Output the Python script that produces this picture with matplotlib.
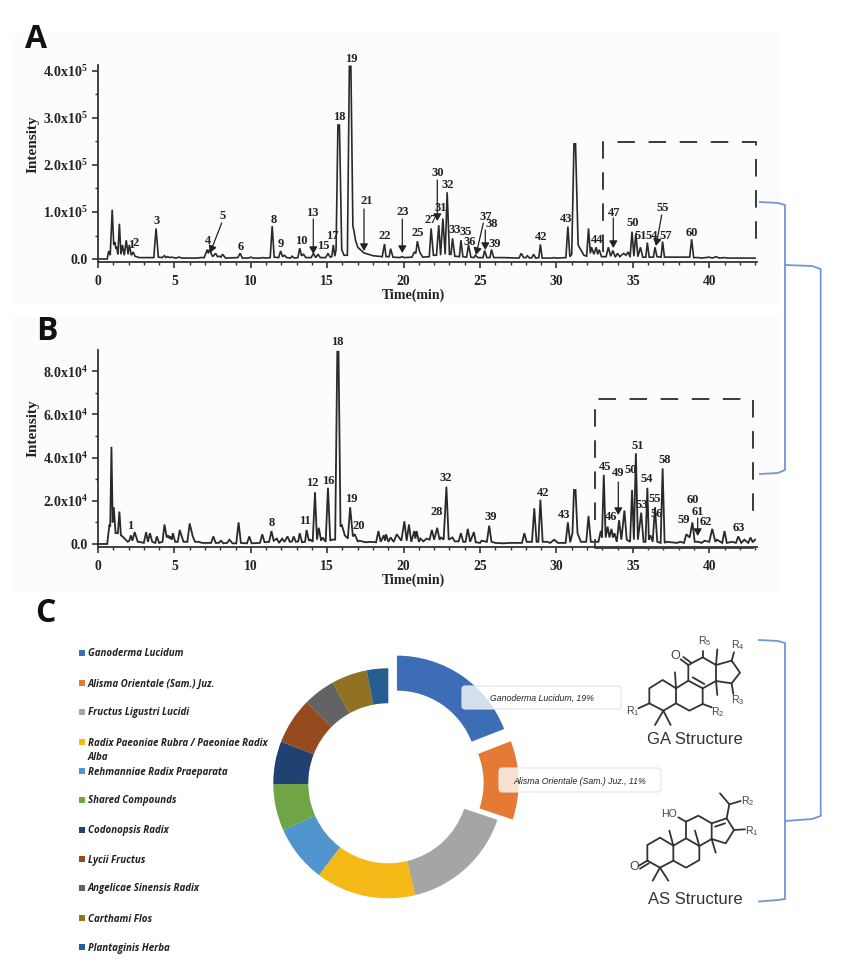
import matplotlib
matplotlib.use("Agg")
import matplotlib.pyplot as plt
from matplotlib.patches import Rectangle, FancyBboxPatch
from matplotlib.ticker import MultipleLocator
import matplotlib.patheffects as pe

# panel A chromatogram, intensity in units of 1e5
a_time = [0, 0.6, 0.7, 0.8, 0.93, 1.03, 1.1, 1.17, 1.22, 1.3,
          1.4, 1.5, 1.6, 1.72, 1.85, 1.97, 2.05, 2.18, 2.3, 2.42,
          2.7, 3.65, 3.8, 3.95, 4.2, 4.35, 4.45, 4.55, 4.68, 4.8,
          5.1, 5.3, 5.5, 6.5, 6.7, 6.95, 7.15, 7.22, 7.3, 7.5,
          7.7, 7.82, 7.95, 8.05, 8.15, 8.35, 9.15, 9.3, 9.45, 9.85,
          10, 10.15, 10.65, 10.8, 11, 11.27, 11.4, 11.53, 11.82, 11.95,
          12.08, 12.2, 12.35, 12.6, 12.7, 12.85, 13.08, 13.2, 13.32, 13.45,
          13.6, 13.95, 14.1, 14.25, 14.4, 14.55, 14.9, 15.05, 15.2, 15.3,
          15.4, 15.5, 15.58, 15.7, 15.8, 15.95, 16.1, 16.32, 16.45, 16.55, 16.68, 16.75,
          16.85, 17, 17.4, 18, 18.6, 18.75, 18.85, 19.05, 19.15, 19.3,
          19.75, 19.9, 20.05, 20.55, 20.7, 20.8, 20.9, 21.05, 21.25, 21.68,
          21.8, 21.95, 22.15, 22.3, 22.42, 22.57, 22.72, 22.85, 23, 23.1,
          23.2, 23.35, 23.65, 23.75, 23.88, 24.12, 24.25, 24.4, 24.6, 24.7,
          24.85, 25.2, 25.3, 25.45, 25.65, 25.75, 25.9, 26.5, 27.55, 27.7,
          27.85, 28, 28.1, 28.25, 28.4, 28.5, 28.65, 28.85, 28.95, 29.07,
          29.7, 29.85, 30, 30.62, 30.75, 30.88, 31.0, 31.15, 31.25, 31.42, 31.5,
          31.8, 31.98, 32.1, 32.22, 32.3, 32.45, 32.6, 32.7, 32.8, 32.95,
          33.25, 33.4, 33.55, 33.7, 33.85, 34, 34.15, 34.4, 34.55, 34.7,
          34.82, 34.95, 35.07, 35.2, 35.33, 35.5, 35.65, 35.85, 35.95, 36.07,
          36.35, 36.45, 36.58, 36.85, 36.95, 37.07, 37.4, 38, 38.72, 38.85,
          38.98, 39.3, 39.5, 40, 40.2, 40.45, 40.65, 41, 41.2, 43]
a_intensity = [0, 0, .17, .08, 1.05, .3, .36, .22, .26, .1,
               .75, .1, .3, .08, .4, .1, .3, .08, .15, .06,
               .03, .03, .65, .04, .03, .07, .03, .05, .03, .04,
               .02, .04, .02, .02, .03, .03, .2, .12, .2, .05,
               .12, .05, .06, .04, .1, .02, .03, .12, .02, .02,
               .04, .02, .02, .03, .02, .03, .7, .04, .03, .17,
               .05, .08, .03, .02, .06, .02, .03, .23, .07, .1,
               .03, .03, .12, .03, .1, .03, .03, .12, .04, .05,
               .3, .06, .2, 2.85, 2.85, .2, .08, .08, 4.1, 4.1, .7, .6,
               .4, .25, .13, .07, .05, .32, .05, .05, .22, .04,
               .03, .05, .03, .04, .15, .12, .38, .15, .04, .05,
               .65, .08, .08, .72, .08, .86, .1, 1.42, .1, .1,
               .44, .06, .05, .4, .05, .04, .3, .04, .03, .08,
               .03, .03, .18, .03, .03, .2, .03, .03, .02, .12,
               .03, .03, .07, .02, .03, .1, .02, .03, .31, .02,
               .02, .03, .02, .03, .69, .05, .1, 2.45, 2.45, .3, .25,
               .08, .06, .65, .12, .25, .1, .25, .1, .2, .05,
               .05, .25, .06, .18, .04, .12, .05, .12, .08, .15,
               .04, .58, .06, .55, .05, .25, .04, .04, .35, .04,
               .04, .25, .05, .04, .37, .04, .04, .04, .04, .42,
               .03, .03, .02, .04, .02, .05, .02, .03, .02, .02]

# panel B chromatogram, intensity in units of 1e4
b_time = [0, .6, .75, .8, .88, .96, 1.03, 1.15, 1.3, 1.4,
          1.5, 1.6, 1.95, 2.05, 2.15, 2.25, 2.4, 2.6, 2.7, 3.0,
          3.15, 3.27, 3.4, 3.55, 3.75, 3.85, 4.0, 4.22, 4.35, 4.5,
          4.6, 4.68, 4.75, 4.82, 4.9, 5.05, 5.22, 5.35, 5.5, 5.6,
          5.85, 6.0, 6.2, 6.35, 6.6, 6.8, 7.4, 7.55, 7.7, 7.9,
          8.05, 8.2, 8.45, 8.6, 8.8, 9.05, 9.2, 9.35, 9.75, 9.9,
          10.05, 10.6, 10.75, 10.9, 11.2, 11.35, 11.5, 11.7, 11.85, 12.05,
          12.2, 12.4, 12.55, 12.7, 12.8, 12.95, 13.1, 13.2, 13.35, 13.55,
          13.65, 13.8, 13.9, 14.05, 14.2, 14.33, 14.45, 14.6, 14.7, 14.9,
          15.05, 15.2, 15.3, 15.52, 15.66, 15.74, 15.87, 15.95, 16.15, 16.35, 16.5,
          16.68, 16.8, 17, 17.1, 17.5, 17.8, 18.2, 18.35, 18.5, 18.7,
          18.78, 18.85, 19, 19.15, 19.35, 19.55, 19.85, 20.05, 20.2, 20.35,
          20.5, 20.7, 20.77, 20.85, 21, 21.1, 21.3, 21.5, 21.7, 21.85,
          22, 22.2, 22.35, 22.45, 22.62, 22.8, 22.95, 23.2, 23.35, 23.6,
          23.75, 23.9, 24.05, 24.2, 24.35, 24.6, 24.72, 25, 25.1, 25.45,
          25.6, 25.75, 26, 26.5, 27, 27.5, 27.75, 27.9, 28.05, 28.4,
          28.55, 28.7, 28.82, 28.95, 29.1, 29.4, 29.6, 29.85, 30.1, 30.6,
          30.75, 30.9, 31.05, 31.15, 31.25, 31.38, 31.6, 31.95, 32.1, 32.25, 32.75,
          32.9, 32.98, 33.1, 33.22, 33.35, 33.47, 33.6, 33.7, 33.8, 33.95,
          34.1, 34.25, 34.45, 34.6, 34.82, 34.95, 35.07, 35.2, 35.33, 35.55,
          35.7, 35.83, 35.95, 36.05, 36.15, 36.3, 36.45, 36.6, 36.82, 36.95,
          37.08, 37.2, 37.9, 38.1, 38.35, 38.5, 38.72, 38.9, 39.05, 39.3,
          39.5, 39.7, 40, 40.2, 40.4, 40.5, 40.85, 41, 41.15, 41.5,
          41.75, 41.9, 42.1, 42.3, 42.55, 42.7, 42.85, 43]
b_intensity = [0, 0, .9, .8, 4.5, 1.0, 1.7, .5, .5, 1.5,
               .4, .35, .1, .15, .4, .15, .55, .1, .1, .05,
               .55, .1, .5, .1, .05, .35, .05, .1, .9, .3,
               .4, .25, .35, .2, .5, .1, .1, .65, .3, .1,
               .1, .95, .35, .1, .1, .05, .05, .35, .05, .05,
               .15, .03, .05, .2, .03, .03, 1.0, .05, .03, .35,
               .03, .05, .45, .08, .1, .6, .15, .25, .05, .25,
               .1, .35, .1, .12, .35, .1, .12, .5, .08, .1,
               .65, .15, .2, .1, 2.4, .2, .75, .15, .3, .1,
               2.6, .15, .2, .2, 8.9, 8.9, .8, .9, .4, .25, 1.7,
               .35, .45, .12, .15, .08, .1, .08, .6, .1, .4,
               .15, .45, .1, .3, .1, .45, .15, 1.05, .15, .9,
               .1, .6, .25, .6, .1, .25, .12, .25, .2, .65,
               .2, .75, .2, .3, .2, 2.65, .2, .3, .12, .12,
               .5, .1, .1, .7, .1, .55, .08, .05, .15, .1,
               .85, .1, .05, .03, .05, .05, .05, .5, .1, .1,
               1.65, .1, .1, 2.05, .1, .1, .05, .2, .05, .05,
               1.0, .08, .5, 2.5, 2.5, .5, .1, .1, 1.3, .1, .1,
               .6, .3, 3.2, .3, .8, .3, .7, .3, .5, .1,
               1.1, .2, 1.55, .2, .1, 2.5, .2, 4.2, .2, 1.45,
               .1, .1, 2.6, .2, .4, .1, 1.7, .1, .05, 3.5,
               .05, .1, .05, .1, .05, .45, .3, 1.0, .1, .1,
               .05, .15, .1, .7, .1, .2, .05, .6, .05, .1,
               .05, .35, .05, .2, .05, .3, .08, .2]

x_ticks = [0, 5, 10, 15, 20, 25, 30, 35, 40]
a_yticks = [0, 1, 2, 3, 4]
a_yticklabels = ["0.0", "1.0x10$^{5}$", "2.0x10$^{5}$", "3.0x10$^{5}$", "4.0x10$^{5}$"]
b_yticks = [0, 2, 4, 6, 8]
b_yticklabels = ["0.0", "2.0x10$^{4}$", "4.0x10$^{4}$", "6.0x10$^{4}$", "8.0x10$^{4}$"]

# peak numbers
a_labels = ["1", "2", "3", "4", "5", "6", "8", "9", "10", "13", "15", "17", "18", "19", "21",
            "22", "23", "25", "27", "30", "31", "32", "33", "35", "36", "37", "38", "39",
            "42", "43", "44", "47", "50", "51", "54", "55", "57", "60"]
b_labels = ["1", "8", "11", "12", "16", "18", "19", "20", "28", "32", "39", "42", "43", "45", "46",
            "49", "50", "51", "53", "54", "55", "56", "58", "59", "60", "61", "62", "63"]

# donut
herbs = ["Ganoderma Lucidum", "Alisma Orientale (Sam.) Juz.", "Fructus Ligustri Lucidi",
         "Radix Paeoniae Rubra / Paeoniae Radix\nAlba", "Rehmanniae Radix Praeparata",
         "Shared Compounds", "Codonopsis Radix", "Lycii Fructus", "Angelicae Sinensis Radix",
         "Carthami Flos", "Plantaginis Herba"]
shares = [19, 11, 16, 14, 8, 6.5, 6, 6.5, 4.5, 5, 3]
explode = [.133, .133, 0, 0, 0, 0, 0, 0, 0, 0, 0]
herb_colors = ["#3d6db5", "#e47a33", "#a5a5a5", "#f5b918", "#5095cd", "#6fa545",
               "#204172", "#964a20", "#636363", "#927122", "#255e91"]

W, H = 858, 967
plt.rcParams["font.family"] = ["Liberation Serif", "DejaVu Serif"]
plt.rcParams["mathtext.default"] = "regular"

fig = plt.figure(figsize=(W / 100, H / 100), dpi=100, facecolor="white")


def axes_px(left, top, right, bottom, **kw):
    return fig.add_axes([left / W, 1 - bottom / H, (right - left) / W, (bottom - top) / H], **kw)


# page overlay in pixel coordinates, used for panel letters, brackets and structures
page = axes_px(0, 0, W, H, zorder=5)
page.set_xlim(0, W)
page.set_ylim(H, 0)
page.axis("off")
page.patch.set_alpha(0)

back = axes_px(0, 0, W, H, zorder=0)
back.set_xlim(0, W)
back.set_ylim(H, 0)
back.axis("off")
back.add_patch(Rectangle((10, 33), 770, 272, color="#fcfcfc", lw=0))
back.add_patch(Rectangle((10, 318), 770, 274, color="#fcfcfc", lw=0))


def chromatogram(ax, t, y, yticks, yticklabels, ylim, lw):
    ax.plot(t, y, color="#2a2a2a", lw=lw, solid_joinstyle="miter")
    ax.set_xlim(0, 43.1)
    ax.set_ylim(*ylim)
    ax.patch.set_alpha(0)
    for s in ["top", "right"]:
        ax.spines[s].set_visible(False)
    for s in ["left", "bottom"]:
        ax.spines[s].set_linewidth(1.3)
        ax.spines[s].set_color("#333333")
    ax.set_xticks(x_ticks)
    ax.set_xticklabels([str(v) for v in x_ticks], fontsize=9.8, fontweight="bold", color="#222222")
    ax.set_yticks(yticks)
    ax.set_yticklabels(yticklabels, fontsize=10, fontweight="bold", color="#222222")
    ax.xaxis.set_minor_locator(MultipleLocator(1))
    ax.yaxis.set_minor_locator(MultipleLocator(yticks[1] / 2))
    ax.tick_params(which="major", length=4.5, width=1.2, color="#333333", pad=3)
    ax.tick_params(axis="x", which="major", pad=5)
    ax.tick_params(which="minor", length=2.5, width=1, color="#333333")


ax_a = axes_px(98, 65, 756.6, 262, zorder=2)
chromatogram(ax_a, a_time, a_intensity, a_yticks, a_yticklabels, (-0.0635, 4.127), 1.2)
ax_b = axes_px(98, 350, 756.6, 547, zorder=2)
chromatogram(ax_b, b_time, b_intensity, b_yticks, b_yticklabels, (-0.14, 8.98), 1.3)

# peak number positions in page pixels, same order as the label lists
a_label_xy = [(130.7, 245), (135.7, 243), (157, 221), (208, 240.7), (222.7, 216), (241, 247), (273.7, 220),
              (280.7, 244), (301, 240.7), (312.7, 212.7), (323, 245.7), (332, 235.7), (339.3, 117.3),
              (351.7, 58.7), (366.7, 201), (384.3, 235.7), (402.3, 212), (417.3, 232.7), (430.7, 220),
              (437.3, 172.7), (440.7, 208), (447.7, 184.7), (455, 230), (466, 232), (470, 241.7),
              (485.7, 217.3), (491.7, 224.3), (494.3, 243.7), (541, 237.3), (565.7, 219.3), (597.3, 240),
              (614, 212.7), (633, 222.7), (640.7, 236), (652, 236), (662.7, 208.3), (665.7, 236), (692.3, 233)]
b_label_xy = [(130, 525.7), (271.7, 522.7), (305, 521), (312.3, 483.3), (328.7, 481), (337.7, 342),
              (351.7, 499.3), (358.3, 526), (436.7, 511.7), (445.3, 478.3), (490.7, 517), (542.7, 492.7),
              (564.3, 514.7), (604.7, 467.3), (610.7, 516.7), (618.3, 473.3), (631, 470), (637.3, 445.7),
              (641.7, 505), (646.7, 478.7), (654.3, 498.7), (656.7, 514), (664.3, 460.3), (684, 520),
              (692.7, 500), (697.7, 512), (705.7, 522), (739.3, 527.7)]
for lab, (x, y) in list(zip(a_labels, a_label_xy)) + list(zip(b_labels, b_label_xy)):
    page.text(x, y, lab, ha="center", va="center", fontsize=9, fontweight="bold", color="#222222")

arrows = [((221.7, 223), (210, 253)), ((313.3, 219), (313.3, 254)), ((364, 209), (364, 251)),
          ((402.3, 219), (402.3, 253)), ((437.3, 180), (437.3, 221)), ((483.3, 223), (476, 255)),
          ((485.3, 230), (485.3, 250)), ((613.3, 218), (613.3, 248)), ((661.7, 215), (656, 246)),
          ((618.3, 482), (618.3, 515)), ((697.7, 518), (697.7, 536))]
for start, end in arrows:
    page.annotate("", xy=end, xytext=start,
                  arrowprops=dict(arrowstyle="-|>,head_length=0.42,head_width=0.24", color="#222222", lw=0.9,
                                  shrinkA=0, shrinkB=0))

# dashed boxes
dash = dict(color="#3a3a3a", lw=1.4, dashes=(9, 7))
page.plot([603, 603, 756, 756], [252, 142, 142, 252], **dash)
page.plot([595, 595, 753, 753], [520, 399, 399, 520], **dash)
page.plot([595, 595, 753], [540, 548, 548], color="#3a3a3a", lw=1.3)

# blue brackets
blue = dict(color="#7196d3", lw=1.3, solid_joinstyle="round")
page.plot([760, 778, 785, 785, 778, 760], [202, 203, 205, 470, 473, 474], **blue)
page.plot([785, 812, 820.7, 820.7, 812, 785], [265, 266, 269, 816, 819, 821], **blue)
page.plot([759, 778, 785, 785, 778, 759], [640, 641, 643, 899, 900, 901.5], **blue)

# panel letters
for letter, x, y in [("A", 36, 39), ("B", 46.5, 332), ("C", 45, 613)]:
    page.text(x, y, letter, ha="center", va="center", fontsize=23, fontweight="bold",
              family=["Open Sans", "DejaVu Sans"], color="#111111")

# axis titles
for yc in [144, 428]:
    page.text(33, yc, "Intensity", rotation=90, ha="center", va="center",
              fontsize=11, fontweight="bold", color="#222222")
page.text(413, 295, "Time(min)", ha="center", va="center", fontsize=10, fontweight="bold", color="#222222")
page.text(413, 580, "Time(min)", ha="center", va="center", fontsize=10, fontweight="bold", color="#222222")

# donut
ax_c = axes_px(388.3 - 140, 783.3 - 140, 388.3 + 140, 783.3 + 140, zorder=3)
wedges, _ = ax_c.pie(shares, explode=explode, colors=herb_colors, startangle=90, counterclock=False,
                     radius=1, wedgeprops=dict(width=0.304, lw=0))
for w in wedges:
    w.set_path_effects([pe.SimplePatchShadow(offset=(0, 0), alpha=0.08, shadow_rgbFace="#000000"), pe.Normal()])
ax_c.set_xlim(-140 / 115, 140 / 115)
ax_c.set_ylim(-140 / 115, 140 / 115)

# legend, drawn by hand since rows are unevenly spaced in the source
legend_y = [653, 683, 712, 742, 771, 800, 830, 859, 888, 918, 947]
for name, col, y in zip(herbs, herb_colors, legend_y):
    page.add_patch(Rectangle((79, y - 3), 6, 6, color=col, lw=0))
    page.text(88, y - 4.5, name, ha="left", va="top", fontsize=7, fontweight="bold", style="italic",
              family=["Open Sans", "DejaVu Sans"], color="#222222", linespacing=1.45)

# callouts on the donut
callouts = [(462, 686, 159, 23, "Ganoderma Lucidum, 19%", 541.5, 698),
            (499, 768, 162, 24, "Alisma Orientale (Sam.) Juz., 11%", 580, 781)]
for x, y, w, h, txt, tx, ty in callouts:
    page.add_patch(FancyBboxPatch((x + 3, y + 3), w - 6, h - 6, boxstyle="round,pad=3,rounding_size=3",
                                  fc=(1, 1, 1, 0.78), ec="#e4e4e4", lw=0.8))
    page.text(tx, ty, txt, ha="center", va="center", fontsize=6.3, style="italic",
              family=["Liberation Sans", "DejaVu Sans"], color="#222222")


# chemical structures, coordinates measured on a 3x grid of the corner of the page
def sx(v):
    return 610 + v / 3


def sy(v):
    return 620 + v / 3


def bonds(chain, lw=1.3):
    page.plot([sx(p[0]) for p in chain], [sy(p[1]) for p in chain], color="#333333", lw=lw,
              solid_joinstyle="round", solid_capstyle="round")


def atom(x, y, main, sub=None, size=7.6):
    txt = main if sub is None else main + "$_{" + sub + "}$"
    page.text(sx(x), sy(y), txt, ha="center", va="center", fontsize=size, color="#444444",
              family=["Liberation Sans", "DejaVu Sans"])


# GA skeleton
bonds([(118, 250), (118, 205), (158, 180), (198, 205), (198, 250), (160, 272), (118, 250)])
bonds([(198, 205), (235, 182), (278, 205), (278, 252), (238, 272), (198, 250)])
bonds([(248, 172), (283, 192)])
bonds([(235, 182), (235, 135), (278, 112), (318, 135), (318, 183), (278, 205)])
bonds([(318, 135), (365, 122), (390, 158), (365, 190), (318, 183)])
bonds([(135, 315), (160, 272), (182, 315)])
bonds([(85, 265), (118, 250)])
bonds([(198, 205), (195, 157)])
bonds([(278, 252), (305, 262)])
bonds([(235, 135), (212, 118)])
bonds([(243, 128), (220, 111)])
bonds([(278, 112), (278, 92)])
bonds([(318, 135), (322, 88)])
bonds([(318, 183), (322, 225)])
bonds([(365, 122), (372, 97)])
bonds([(365, 190), (370, 222)])
atom(68, 272, "R", "1")
atom(323, 275, "R", "2")
atom(382, 240, "R", "3")
atom(382, 75, "R", "4")
atom(285, 63, "R", "5")
atom(197, 108, "O", size=9)
# AS skeleton
bonds([(112, 722), (112, 675), (150, 653), (190, 677), (190, 722), (150, 743), (112, 722)])
bonds([(190, 677), (228, 655), (268, 678), (268, 720), (228, 743), (190, 722)])
bonds([(228, 655), (228, 605), (265, 587), (305, 610), (305, 657), (268, 678)])
bonds([(305, 610), (350, 595), (372, 630), (347, 670), (305, 657)])
bonds([(315, 620), (345, 610)])
bonds([(112, 722), (85, 738)])
bonds([(116, 730), (90, 746)])
bonds([(128, 782), (150, 743), (175, 782)])
bonds([(190, 677), (178, 632)])
bonds([(228, 605), (205, 592)])
bonds([(268, 678), (255, 632)])
bonds([(305, 657), (317, 698)])
bonds([(372, 630), (405, 628)])
bonds([(330, 520), (358, 553), (392, 543)])
bonds([(350, 595), (358, 553)])
atom(178, 583, "HO")
atom(73, 740, "O", size=9)
atom(425, 632, "R", "1")
atom(412, 542, "R", "2")
for yv, name in [(358, "GA Structure"), (838, "AS Structure")]:
    page.text(sx(255), sy(yv), name, ha="center", va="center", fontsize=12, color="#333333",
              family=["Liberation Sans", "DejaVu Sans"])

fig.savefig("out.png", dpi=100)
